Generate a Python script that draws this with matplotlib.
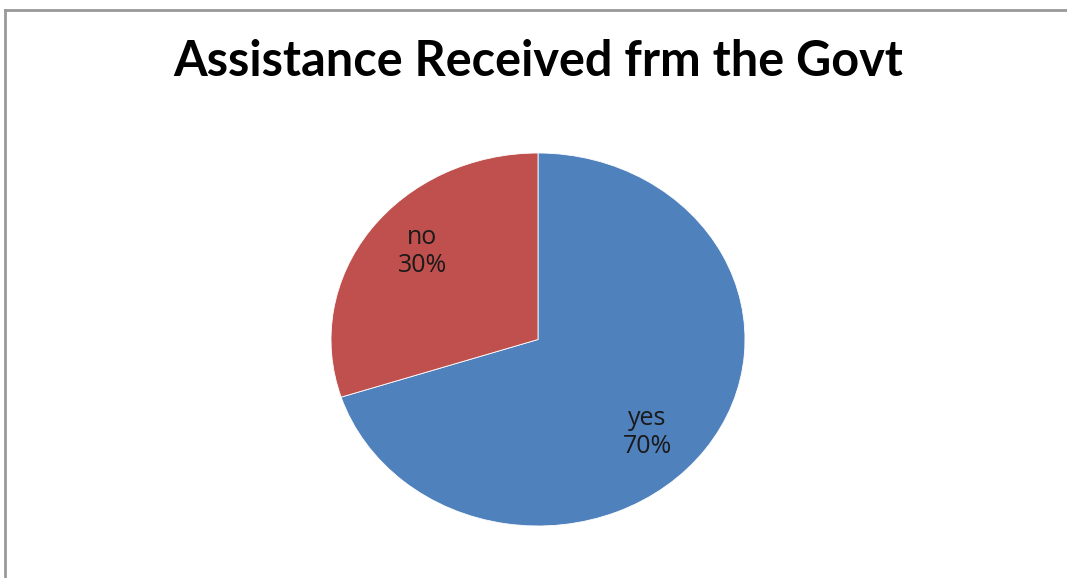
import matplotlib.pyplot as plt
from matplotlib.lines import Line2D

# answers and their shares
labels = ["yes", "no"]
shares = [70, 30]
colors = ["#4F81BD", "#C0504D"]

W, H = 1067, 578
fig = plt.figure(figsize=(W / 100, H / 100), dpi=100)

# pie is slightly wider than tall, so drop the equal aspect
ax = fig.add_axes([331 / W, (H - 526) / H, 414 / W, 373 / H])
wedges, texts = ax.pie(
    shares,
    labels=[f"{l}\n{s}%" for l, s in zip(labels, shares)],
    colors=colors,
    startangle=90,
    counterclock=False,
    labeldistance=0.73,
    wedgeprops=dict(linewidth=0.6, edgecolor="white"),
    textprops=dict(fontsize=18, family="Open Sans", color="#1a1a1a",
                   linespacing=1.15),
)
ax.set_aspect("auto")
ax.set_xlim(-1, 1)
ax.set_ylim(-1, 1)

# nudge the labels to where they read best
for t, pos in zip(texts, [(0.527, -0.5), (-0.56, 0.47)]):
    t.set_position(pos)
    t.set_ha("center")
    t.set_va("center")

fig.text(538 / W, 1 - 62 / H, "Assistance Received frm the Govt",
         ha="center", va="center", fontsize=35, fontweight="bold", family="Lato")

# chart area frame: left and top edges
fig.add_artist(Line2D([5 / W, 5 / W], [0, 1 - 9.5 / H], color="#999999", lw=2))
fig.add_artist(Line2D([5 / W, 1], [1 - 9.5 / H, 1 - 9.5 / H], color="#999999", lw=2))

fig.savefig("out.png", dpi=100)
